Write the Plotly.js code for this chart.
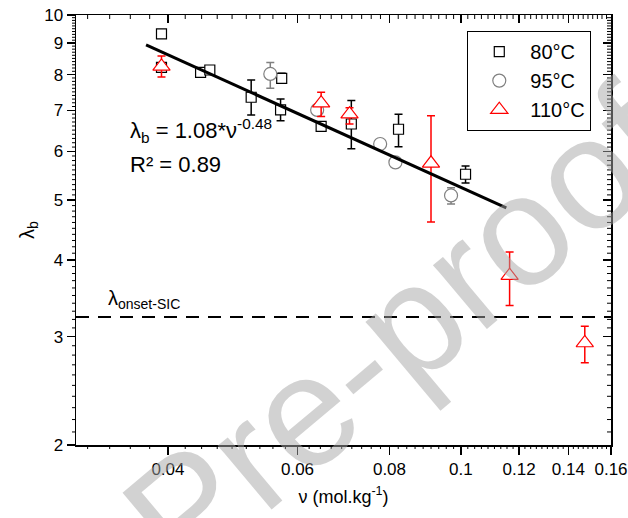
<!DOCTYPE html>
<html>
<head>
<meta charset="utf-8">
<script src="https://cdn.plot.ly/plotly-3.0.1.min.js"></script>
<style>html,body{margin:0;padding:0;background:#fff;}#chart{width:628px;height:518px;}</style>
</head>
<body>
<div id="chart"></div>
<script>
// ---- data ----
const seriesNames = ["80°C", "95°C", "110°C"];

const x80 = [0.0392, 0.0392, 0.0443, 0.0456, 0.0519, 0.0569, 0.0571, 0.0646, 0.0710, 0.0823, 0.1015];
const y80 = [9.32, 8.22, 8.07, 8.14, 7.35, 7.01, 7.89, 6.59, 6.65, 6.52, 5.51];
const errUp80 = [0.08, 0.08, 0.07, 0.09, 0.49, 0.29, 0.15, 0.07, 0.61, 0.38, 0.17];
const errDn80 = [0.08, 0.08, 0.07, 0.09, 0.47, 0.28, 0.14, 0.07, 0.59, 0.41, 0.18];

const x95 = [0.0551, 0.0638, 0.0777, 0.0815, 0.0970];
const y95 = [8.02, 7.01, 6.17, 5.76, 5.09];
const errUp95 = [0.35, 0.12, 0.03, 0.03, 0.15];
const errDn95 = [0.42, 0.12, 0.03, 0.03, 0.16];

const x110 = [0.0392, 0.0646, 0.0706, 0.0911, 0.1165, 0.1474];
const y110 = [8.25, 7.19, 6.90, 5.74, 3.77, 2.93];
const errUp110 = [0.33, 0.30, 0.17, 1.12, 0.35, 0.19];
const errDn110 = [0.32, 0.35, 0.25, 1.13, 0.40, 0.21];

const fitX = [0.03735, 0.1153];
const fitY = [8.94, 4.86];

const onsetX = [0.03, 0.16];
const onsetY = [3.23, 3.23];

const xTickVals = [0.04, 0.06, 0.08, 0.1, 0.12, 0.14, 0.16];
const xTickText = ["0.04", "0.06", "0.08", "0.1", "0.12", "0.14", "0.16"];
const yTickVals = [2, 3, 4, 5, 6, 7, 8, 9, 10];
const yTickText = ["2", "3", "4", "5", "6", "7", "8", "9", "10"];

// ---- minor tick values ----
const xMinor = [];
for (let k = 0; k <= 63; k++) {
  if (k % 9 === 0) continue;
  const v = 0.02 + k * 0.02 / 9;
  if (v > 0.03 && v < 0.16) xMinor.push(v);
}
const yMinor = [];
for (let k = 21; k < 100; k++) {
  if (k % 10 === 0) continue;
  yMinor.push(k / 10);
}

const FONT = "Liberation Sans, Arial, sans-serif";
const xr = [Math.log10(0.03), Math.log10(0.16)];
const yr = [Math.log10(2), 1];
const PW = 628 - 76 - 17, PH = 518 - 15 - 73;

// minor ticks as axis decorations (paper fractions from the log scale)
const minorShapes = [];
const tl = 4;
xMinor.forEach(function (v) {
  const f = (Math.log10(v) - xr[0]) / (xr[1] - xr[0]);
  minorShapes.push({type: 'line', xref: 'paper', yref: 'paper', x0: f, x1: f, y0: 0, y1: -tl / PH,
                    line: {color: 'black', width: 1}});
  minorShapes.push({type: 'line', xref: 'paper', yref: 'paper', x0: f, x1: f, y0: 1, y1: 1 - tl / PH,
                    line: {color: 'black', width: 1}});
});
yMinor.forEach(function (v) {
  const f = (Math.log10(v) - yr[0]) / (yr[1] - yr[0]);
  minorShapes.push({type: 'line', xref: 'paper', yref: 'paper', y0: f, y1: f, x0: 0, x1: -tl / PW,
                    line: {color: 'black', width: 1}});
  minorShapes.push({type: 'line', xref: 'paper', yref: 'paper', y0: f, y1: f, x0: 1, x1: 1 - tl / PW,
                    line: {color: 'black', width: 1}});
});

function errs(up, dn, color) {
  return {type: 'data', symmetric: false, array: up, arrayminus: dn,
          color: color, thickness: 1.5, width: 4};
}

const traces = [
  {x: x80, y: y80, name: seriesNames[0], type: 'scatter', mode: 'markers',
   marker: {symbol: 'square', size: 10, color: 'white', line: {color: 'black', width: 1.2}},
   error_y: errs(errUp80, errDn80, 'black')},
  {x: x95, y: y95, name: seriesNames[1], type: 'scatter', mode: 'markers',
   marker: {symbol: 'circle', size: 13, color: 'white', line: {color: '#808080', width: 1.2}},
   error_y: errs(errUp95, errDn95, '#808080')},
  {x: x110, y: y110, name: seriesNames[2], type: 'scatter', mode: 'markers',
   marker: {symbol: 'triangle-up', size: 15, color: 'white', line: {color: 'red', width: 1.2}},
   error_y: errs(errUp110, errDn110, 'red')},
  {x: fitX, y: fitY, type: 'scatter', mode: 'lines', showlegend: false,
   line: {color: 'black', width: 3}, hoverinfo: 'skip'},
  {x: onsetX, y: onsetY, xaxis: 'x2', yaxis: 'y2', type: 'scatter', mode: 'lines', showlegend: false,
   line: {color: 'black', width: 2, dash: '13px,9px'}, hoverinfo: 'skip'}
];

const baseAxis = {
  showgrid: false, zeroline: false, showline: true, linecolor: 'black', linewidth: 1.5,
  tickcolor: 'black', tickwidth: 1.5, ticklen: 8,
  tickfont: {family: FONT, size: 17, color: 'black'}
};

const layout = {
  width: 628, height: 518,
  margin: {l: 76, r: 17, t: 15, b: 73},
  paper_bgcolor: 'white', plot_bgcolor: 'white',
  font: {family: FONT, color: 'black'},
  showlegend: true,
  legend: {x: 0.731, y: 0.963, xanchor: 'left', yanchor: 'top',
           bordercolor: 'black', borderwidth: 1.2, bgcolor: 'white',
           font: {family: FONT, size: 20, color: 'black'}, itemwidth: 52,
           tracegroupgap: 0},
  xaxis: Object.assign({}, baseAxis, {
    type: 'log', range: xr, tickmode: 'array', tickvals: xTickVals, ticktext: xTickText,
    ticks: 'outside',
    title: {text: 'ν (mol.kg<sup>-1</sup>)', font: {family: FONT, size: 18, color: 'black'}, standoff: 12}
  }),
  yaxis: Object.assign({}, baseAxis, {
    type: 'log', range: yr, tickmode: 'array', tickvals: yTickVals, ticktext: yTickText,
    ticks: 'outside',
    title: {text: 'λ<sub>b</sub>', font: {family: FONT, size: 20, color: 'black'}, standoff: 4}
  }),
  xaxis2: Object.assign({}, baseAxis, {
    type: 'log', range: xr, overlaying: 'x', side: 'top', anchor: 'y2',
    tickmode: 'array', tickvals: xTickVals, ticks: 'inside', showticklabels: false
  }),
  yaxis2: Object.assign({}, baseAxis, {
    type: 'log', range: yr, overlaying: 'y', side: 'right', anchor: 'x2',
    tickmode: 'array', tickvals: yTickVals, ticks: 'inside', showticklabels: false
  }),
  shapes: minorShapes,
  annotations: [
    {xref: 'paper', yref: 'paper', x: (128 - 76) / 535, y: (445 - 130) / 430,
     xanchor: 'left', yanchor: 'middle', showarrow: false,
     text: 'λ<sub>b</sub> = 1.08*ν<sup>-0.48</sup>', font: {family: FONT, size: 22, color: 'black'}},
    {xref: 'paper', yref: 'paper', x: (128 - 76) / 535, y: (445 - 165) / 430,
     xanchor: 'left', yanchor: 'middle', showarrow: false,
     text: 'R² = 0.89', font: {family: FONT, size: 22, color: 'black'}},
    {xref: 'paper', yref: 'paper', x: (106 - 76) / 535, y: (445 - 299) / 430,
     xanchor: 'left', yanchor: 'middle', showarrow: false,
     text: 'λ<sub>onset-SIC</sub>', font: {family: FONT, size: 20, color: 'black'}},
    {xref: 'paper', yref: 'paper', x: (400 - 76) / 535, y: (445 - 330) / 430,
     xanchor: 'center', yanchor: 'middle', showarrow: false, textangle: -40,
     text: 'Pre-proof', font: {family: FONT, size: 158, color: 'rgba(165,165,165,0.5)'}}
  ]
};

Plotly.newPlot('chart', traces, layout, {staticPlot: true, displayModeBar: false});
</script>
</body>
</html>
